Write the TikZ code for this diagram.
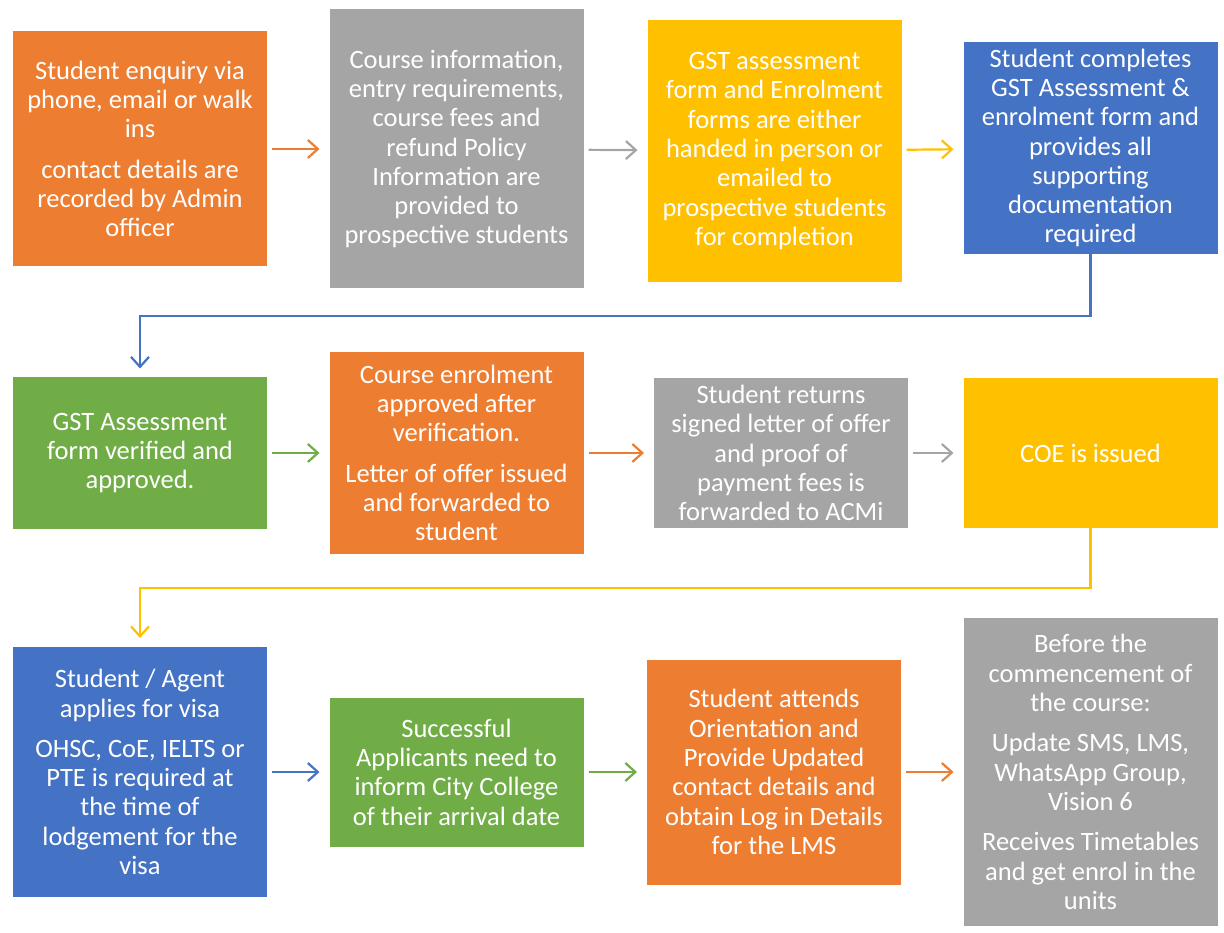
\documentclass[tikz,border=0pt]{standalone}
\usepackage{fontspec}
\setmainfont{Carlito}
\usepackage{tikz}
\usetikzlibrary{arrows.meta}
\definecolor{offorange}{HTML}{ED7D31}
\definecolor{offgray}{HTML}{A5A5A5}
\definecolor{offyellow}{HTML}{FFC000}
\definecolor{offblue}{HTML}{4472C4}
\definecolor{offgreen}{HTML}{70AD47}
\newcommand{\pgap}{\\[11pt]}
\begin{document}
\begin{tikzpicture}[x=1pt,y=-1pt,
   every node/.style={outer sep=0,inner sep=0},
   card/.style={minimum width=254pt,text=white,align=center,
      font=\fontsize{26.5}{29.3}\selectfont},
   flow/.style={-{Straight Barb[length=10pt,width=18pt]},line width=2.2pt,
      shorten <=5pt,shorten >=10pt},
   elbow/.style={-{Straight Barb[length=10pt,width=18pt]},line width=2.2pt,
      shorten >=9pt}]
   \useasboundingbox (0,0) rectangle (1224,933);

   % first row
   \node[card,fill=offorange,minimum height=235pt] (enq) at (140,149)
   {Student enquiry via\\phone, email or walk\\ins\pgap
   contact details are\\recorded by Admin\\officer};
   \node[card,fill=offgray,minimum height=279pt] (info) at (456.5,149)
   {Course information,\\entry requirements,\\course fees and\\refund Policy\\
   Information are\\provided to\\prospective students};
   \node[card,fill=offyellow,minimum height=262pt] (forms) at (774.5,151)
   {GST assessment\\form and Enrolment\\forms are either\\handed in person or\\
   emailed to\\prospective students\\for completion};
   \node[card,fill=offblue,minimum height=212pt] (complete) at (1090.5,148)
   {Student completes\\GST Assessment \&\\enrolment form and\\provides all\\
   supporting\\documentation\\required};

   % second row
   \node[card,fill=offgreen,minimum height=151pt] (verify) at (140,453)
   {GST Assessment\\form verified and\\approved.};
   \node[card,fill=offorange,minimum height=202pt] (approve) at (456.5,453)
   {Course enrolment\\approved after\\verification.\pgap
   Letter of offer issued\\and forwarded to\\student};
   \node[card,fill=offgray,minimum height=150pt] (returns) at (781,453)
   {Student returns\\signed letter of offer\\and proof of\\payment fees is\\
   forwarded to ACMi};
   \node[card,fill=offyellow,minimum height=150pt] (coe) at (1090.5,453)
   {COE is issued};

   % third row
   \node[card,fill=offblue,minimum height=250pt] (visa) at (140,772)
   {Student / Agent\\applies for visa\pgap
   OHSC, CoE, IELTS or\\PTE is required at\\the time of\\lodgement for the\\visa};
   \node[card,fill=offgreen,minimum height=149pt] (arrive) at (456.5,772)
   {Successful\\Applicants need to\\inform City College\\of their arrival date};
   \node[card,fill=offorange,minimum height=225pt] (orient) at (774,772)
   {Student attends\\Orientation and\\Provide Updated\\contact details and\\
   obtain Log in Details\\for the LMS};
   \node[card,fill=offgray,minimum height=308pt] (before) at (1090.5,772)
   {Before the\\commencement of\\the course:\pgap
   Update SMS, LMS,\\WhatsApp Group,\\Vision 6\pgap
   Receives Timetables\\and get enrol in the\\units};

   \draw[flow,offorange] (enq) -- (info);
   \draw[flow,offgray] (info) -- (forms);
   \draw[flow,offyellow] (forms) -- (complete);
   \draw[elbow,offblue] (complete.south) -- ++(0,62) -| (verify.north);

   \draw[flow,offgreen] (verify) -- (approve);
   \draw[flow,offorange] (approve) -- (returns);
   \draw[flow,offgray] (returns) -- (coe);
   \draw[elbow,offyellow] (coe.south) -- ++(0,60) -| (visa.north);

   \draw[flow,offblue] (visa) -- (arrive);
   \draw[flow,offgreen] (arrive) -- (orient);
   \draw[flow,offorange] (orient) -- (before);
\end{tikzpicture}
\end{document}
